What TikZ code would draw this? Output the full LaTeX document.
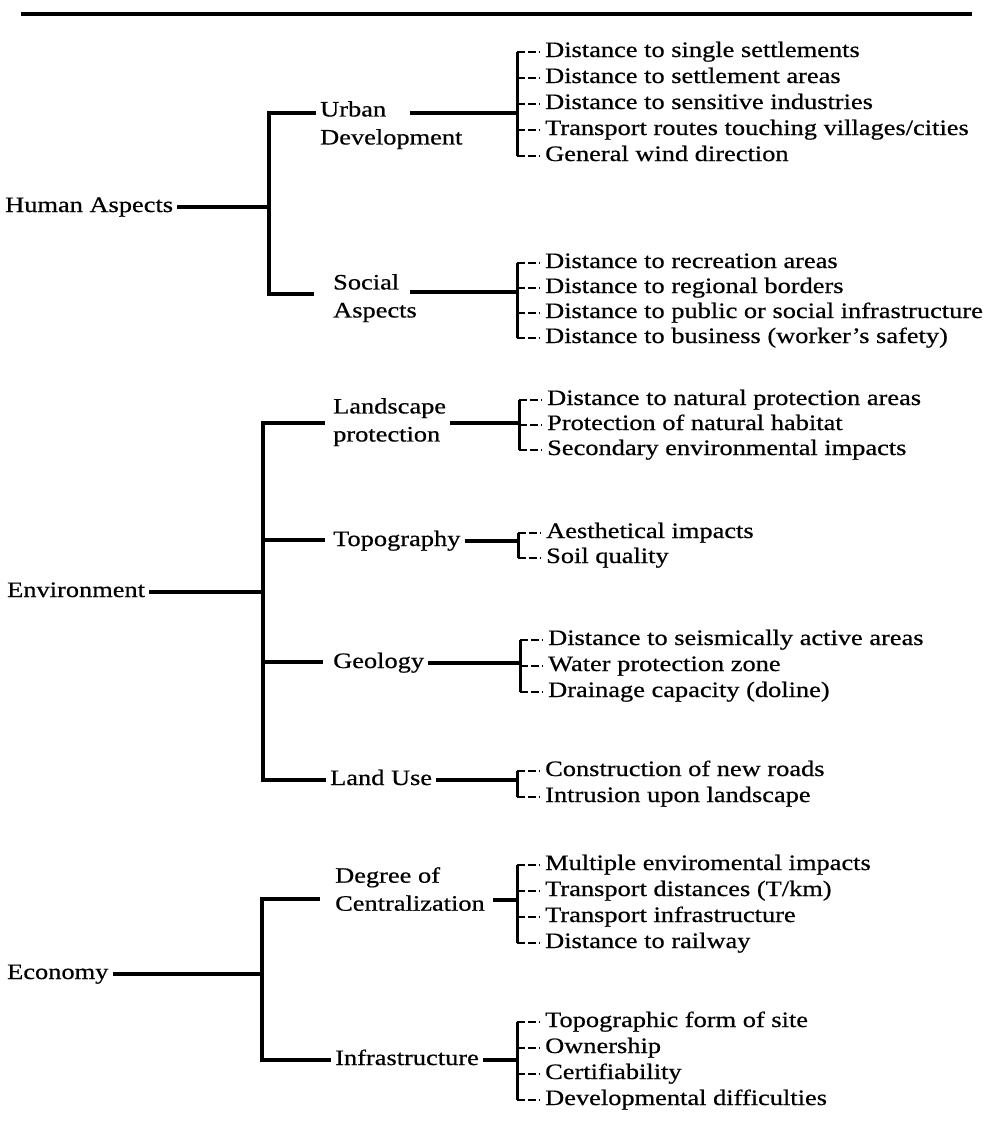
\documentclass[tikz,border=0pt]{standalone}
\usepackage{fontspec}
\setmainfont[FakeStretch=1.2,FakeBold=0.6]{Liberation Serif}
\usetikzlibrary{positioning,calc}

\tikzset{
  trunk/.style={line width=3.4pt},
  bracket/.style={line width=3pt},
  twig/.style={line width=1.8pt, dash pattern=on 8pt off 3pt, shorten >=1pt},
  toplabel/.style={anchor=west, inner xsep=4pt, inner ysep=0pt, text height=15pt, text depth=5pt,
                   font=\fontsize{22}{27}\selectfont},
  midlabel/.style={anchor=north west, inner xsep=4pt, inner ysep=0pt, align=left,
                   font=\fontsize{22}{28}\selectfont},
  leaf/.style={anchor=west, inner xsep=4pt, inner ysep=0pt, text height=15pt, text depth=5pt,
               font=\fontsize{22}{26}\selectfont},
}

\begin{document}
\begin{tikzpicture}[x=1pt,y=-1pt]
\useasboundingbox (0,0) rectangle (986,1144);

% rule on top
\coordinate (ruleL) at (21,14);
\coordinate (ruleR) at (972,14);
\draw[line width=4.5pt] (ruleL) -- (ruleR);

% ---------------- Human Aspects
\node[toplabel] (human) at (1,207) {Human Aspects};
\coordinate (hbar) at (269,207);
\draw[trunk] (human.east) -- (hbar);

\node[midlabel] (urban) at (316,101) {Urban\\Development};
\node[midlabel] (social) at (329,274) {Social\\Aspects};
\coordinate (urbanIn) at (269,113);
\coordinate (socialIn) at (269,294);
\draw[trunk] (urbanIn -| urban.west) -- (urbanIn) -- (socialIn) -- ++(45,0);

\coordinate (urbanOut) at (410,113);
\coordinate (urbanBr) at (517,113);
\draw[trunk] (urbanOut) -- (urbanBr);
\foreach \txt [count=\i] in {Distance to single settlements, Distance to settlement areas,
    Distance to sensitive industries, Transport routes touching villages/cities,
    General wind direction} {
  \node[leaf] (urb\i) at (541,26+26*\i) {\txt};
  \draw[twig] (urb\i.west -| urbanBr) -- (urb\i.west);
}
\draw[bracket] (urb1.west -| urbanBr) -- (urb5.west -| urbanBr);

\coordinate (socialOut) at (410,292);
\coordinate (socialBr) at (517,292);
\draw[trunk] (socialOut) -- (socialBr);
\foreach \txt [count=\i] in {Distance to recreation areas, Distance to regional borders,
    Distance to public or social infrastructure, Distance to business (worker's safety)} {
  \node[leaf] (soc\i) at (541,238+25*\i) {\txt};
  \draw[twig] (soc\i.west -| socialBr) -- (soc\i.west);
}
\draw[bracket] (soc1.west -| socialBr) -- (soc4.west -| socialBr);

% ---------------- Environment
\node[toplabel] (env) at (3,592) {Environment};
\coordinate (ebar) at (263,592);
\draw[trunk] (env.east) -- (ebar);

\node[midlabel] (landscape) at (329,398) {Landscape\\protection};
\node[toplabel] (topo) at (329,541) {Topography};
\node[toplabel] (geology) at (329,663) {Geology};
\node[toplabel] (landuse) at (326,780) {Land Use};
\coordinate (landIn) at (263,423);
\coordinate (topoIn) at (263,540);
\coordinate (geoIn) at (263,662);
\coordinate (luseIn) at (263,780);
\draw[trunk] ($(landIn)+(62,0)$) -- (landIn) -- (luseIn) -- (luseIn -| landuse.west);
\draw[trunk] (topoIn) -- ++(62,0);
\draw[trunk] (geoIn) -- ++(60,0);

\coordinate (landOut) at (450,423);
\coordinate (landBr) at (519,423);
\draw[trunk] (landOut) -- (landBr);
\foreach \txt [count=\i] in {Distance to natural protection areas, Protection of natural habitat,
    Secondary environmental impacts} {
  \node[leaf] (lnd\i) at (543,375+25*\i) {\txt};
  \draw[twig] (lnd\i.west -| landBr) -- (lnd\i.west);
}
\draw[bracket] (lnd1.west -| landBr) -- (lnd3.west -| landBr);

\coordinate (topoBr) at (518,545);
\draw[trunk] (topo.east) -- (topo.east -| topoBr);
\foreach \txt [count=\i] in {Aesthetical impacts, Soil quality} {
  \node[leaf] (top\i) at (542,508+25*\i) {\txt};
  \draw[twig] (top\i.west -| topoBr) -- (top\i.west);
}
\draw[bracket] (top1.west -| topoBr) -- (top2.west -| topoBr);

\coordinate (geoBr) at (520,667);
\draw[trunk] (geology.east) -- (geology.east -| geoBr);
\foreach \txt [count=\i] in {Distance to seismically active areas, Water protection zone,
    Drainage capacity (doline)} {
  \node[leaf] (geo\i) at (544,614+26*\i) {\txt};
  \draw[twig] (geo\i.west -| geoBr) -- (geo\i.west);
}
\draw[bracket] (geo1.west -| geoBr) -- (geo3.west -| geoBr);

\coordinate (luseBr) at (517,782);
\draw[trunk] (landuse.east) -- (landuse.east -| luseBr);
\foreach \txt [count=\i] in {Construction of new roads, Intrusion upon landscape} {
  \node[leaf] (use\i) at (541,745+26*\i) {\txt};
  \draw[twig] (use\i.west -| luseBr) -- (use\i.west);
}
\draw[bracket] (use1.west -| luseBr) -- (use2.west -| luseBr);

% ---------------- Economy
\node[toplabel] (econ) at (3,974) {Economy};
\coordinate (cbar) at (262,974);
\draw[trunk] (econ.east) -- (cbar);

\node[midlabel] (degree) at (331,867) {Degree of\\Centralization};
\node[toplabel] (infra) at (331,1060) {Infrastructure};
\coordinate (degIn) at (262,899);
\coordinate (infIn) at (262,1060);
\draw[trunk] ($(degIn)+(58,0)$) -- (degIn) -- (infIn) -- (infIn -| infra.west);

\coordinate (degOut) at (493,900);
\coordinate (degBr) at (517,900);
\draw[trunk] (degOut) -- (degBr);
\foreach \txt [count=\i] in {Multiple enviromental impacts, Transport distances (T/km),
    Transport infrastructure, Distance to railway} {
  \node[leaf] (deg\i) at (541,839+26*\i) {\txt};
  \draw[twig] (deg\i.west -| degBr) -- (deg\i.west);
}
\draw[bracket] (deg1.west -| degBr) -- (deg4.west -| degBr);

\coordinate (infBr) at (517,1061);
\draw[trunk] (infra.east) -- (infra.east -| infBr);
\foreach \txt [count=\i] in {Topographic form of site, Ownership, Certifiability,
    Developmental difficulties} {
  \node[leaf] (inf\i) at (541,996+26*\i) {\txt};
  \draw[twig] (inf\i.west -| infBr) -- (inf\i.west);
}
\draw[bracket] (inf1.west -| infBr) -- (inf4.west -| infBr);

\end{tikzpicture}
\end{document}
